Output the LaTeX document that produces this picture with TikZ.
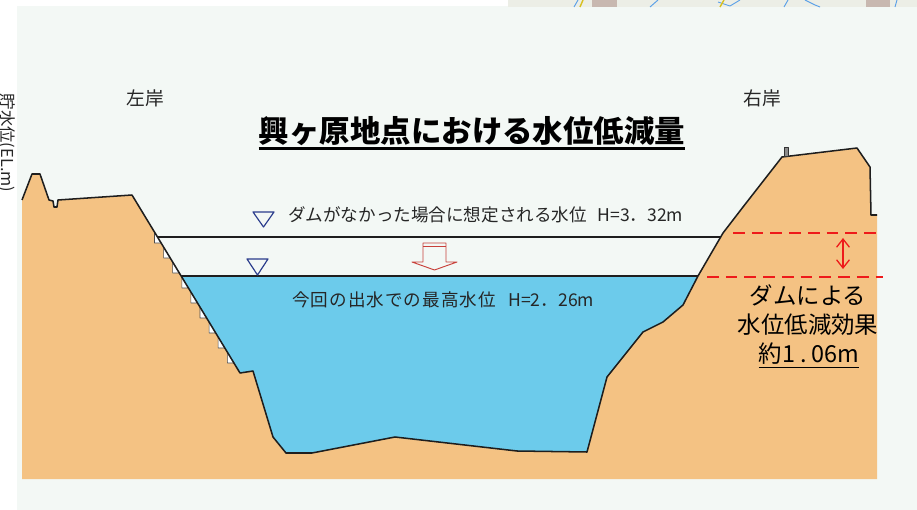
\documentclass[tikz,border=0pt]{standalone}
\usepackage{fontspec}
\setmainfont{Noto Sans CJK JP}
\usetikzlibrary{arrows.meta}
\definecolor{panel}{HTML}{F3F8F5}
\definecolor{sand}{HTML}{F4C283}
\definecolor{river}{HTML}{6CCBEB}
\definecolor{shoreline}{HTML}{1E1E1E}
\definecolor{marker}{HTML}{2A3C8C}
\definecolor{cutred}{HTML}{EE1A1A}
\definecolor{droprd}{HTML}{C8403A}
\definecolor{mapbg}{HTML}{ECEEE6}
\definecolor{mapblue}{HTML}{5AA0E8}
\definecolor{mapgold}{HTML}{D8C020}
\definecolor{mappink}{HTML}{C8B8B0}

\begin{document}
\begin{tikzpicture}[x=0.03cm, y=-0.03cm, line join=round,
  bank/.style={font=\fontsize{16}{18}\selectfont, text=black!85},
  level/.style={font=\fontsize{15}{17}\selectfont, text=black!85, anchor=west, inner sep=0pt},
  effect/.style={font=\fontsize{20}{22}\selectfont, text=black, inner sep=0pt},
  gauge/.style={draw=marker, fill=panel, line width=1pt},
  revet/.style={fill=white, draw=black!70, line width=0.5pt}]

\useasboundingbox (0,0) rectangle (917,510);

% Background
\fill[white] (0,0) rectangle (917,510);
\fill[panel] (17,6) rectangle (917,510);

% Map strip along the top edge
\fill[mapbg] (508,0) rectangle (917,7);
\fill[mappink] (592,0) rectangle (617,7);
\fill[mappink] (866,0) rectangle (890,7);
\draw[mapblue, line width=0.8pt] (574,7) -- (578,0);
\draw[mapgold, line width=1.2pt] (580,7) -- (583,0);
\draw[mapblue, line width=0.8pt] (650,7) -- (658,0);
\draw[mapblue, line width=0.8pt] (718,2) -- (730,6) -- (740,0);
\draw[mapgold, line width=1.2pt] (720,7) -- (724,0);
\draw[mapblue, line width=0.8pt] (784,7) -- (788,0);
\draw[mapblue, line width=0.8pt] (805,0) -- (815,5) -- (820,7);
\draw[mapblue, line width=0.8pt] (895,7) -- (897,0);

% Ground section
\fill[sand] (22,479) -- (22,200) -- (32,174) -- (40,174) -- (49,200) -- (53,201)
  -- (54,207) -- (57,207) -- (58,200) -- (132,195) -- (240,373) -- (253,371)
  -- (273,437) -- (286,453) -- (312,453) -- (395,437) -- (517,451) -- (587,452)
  -- (607,377) -- (643,332) -- (663,322) -- (683,305) -- (698,276) -- (723,233)
  -- (743,207) -- (782,157) -- (857,148) -- (870,167) -- (871,215) -- (877,215)
  -- (877,479) -- cycle;

% Water in the channel
\fill[river] (181,276) -- (240,373) -- (253,371) -- (273,437) -- (286,453)
  -- (312,453) -- (395,437) -- (517,451) -- (587,452) -- (607,377) -- (643,332)
  -- (663,322) -- (683,305) -- (698,276) -- cycle;

% Revetment steps on the left slope
\filldraw[revet] (154.5,232) -- (154.5,243) -- (161.1,243) -- cycle;
\filldraw[revet] (163.6,247) -- (163.6,258) -- (170.2,258) -- cycle;
\filldraw[revet] (172.7,262) -- (172.7,273) -- (179.3,273) -- cycle;
\filldraw[revet] (181.8,277) -- (181.8,288) -- (188.4,288) -- cycle;
\filldraw[revet] (190.9,292) -- (190.9,303) -- (197.5,303) -- cycle;
\filldraw[revet] (200.0,307) -- (200.0,318) -- (206.6,318) -- cycle;
\filldraw[revet] (209.1,322) -- (209.1,333) -- (215.7,333) -- cycle;
\filldraw[revet] (218.2,337) -- (218.2,348) -- (224.8,348) -- cycle;
\filldraw[revet] (227.3,352) -- (227.3,363) -- (233.9,363) -- cycle;

% Ground outline
\draw[shoreline, line width=1.3pt] (22,200) -- (32,174) -- (40,174) -- (49,200)
  -- (53,201) -- (54,207) -- (57,207) -- (58,200) -- (132,195) -- (240,373)
  -- (253,371) -- (273,437) -- (286,453) -- (312,453) -- (395,437) -- (517,451)
  -- (587,452) -- (607,377) -- (643,332) -- (663,322) -- (683,305) -- (698,276)
  -- (723,233) -- (743,207) -- (782,157) -- (857,148) -- (870,167) -- (871,215)
  -- (877,215);

% Post on the right bank
\filldraw[fill=black!45, draw=black!80, line width=0.5pt] (784,147) rectangle (788,156);

% Water levels
\draw[shoreline, line width=1.3pt] (157.5,237) -- (720.7,237);
\draw[shoreline, line width=1.3pt] (181,276) -- (698,276);

% Level markers
\draw[gauge] (253,212) -- (274,212) -- (263.5,227) -- cycle;
\draw[gauge] (247,259) -- (268,259) -- (257.5,275) -- cycle;

% Drop between the two levels
\filldraw[fill=panel, draw=droprd, line width=0.8pt] (423,243) -- (446,243) -- (446,262)
  -- (457,262) -- (434.5,270) -- (412,262) -- (423,262) -- cycle;
\draw[droprd, line width=0.6pt] (423,246) -- (446,246);

% Level labels
\node[level] (nodam) at (288,215) {ダムがなかった場合に想定される水位\hspace{0.6em}H=3．32m};
\node[level] (peak) at (292,300)
  {{\addfontfeature{LetterSpace=6}今回の出水での最高水位}\hspace{0.7em}H=2．26m};

% Reduction on the right bank
\draw[cutred, line width=1.7pt, dash pattern=on 10pt off 6pt] (733,233) -- (877,233);
\draw[cutred, line width=1.7pt, dash pattern=on 10pt off 6pt] (707,277) -- (883,277);
\coordinate (gaptop) at (843,238);
\coordinate (gapbot) at (843,269);
\draw[cutred, line width=1.1pt, {Straight Barb[length=7pt, width=11pt]}-{Straight Barb[length=7pt, width=11pt]}]
  (gaptop) -- (gapbot);

\node[effect] (eff1) at (808,295) {ダムによる};
\node[effect] (eff2) at (808,325) {水位低減効果};
\node[effect] (eff3) at (809,354) {約1\hspace{0.2em}.\hspace{0.2em}06m};
\draw[black, line width=1.1pt] ([yshift=-2pt]eff3.south west) -- ([yshift=-2pt]eff3.south east);

% Bank names
\node[bank] (left) at (145,98) {左岸};
\node[bank] (right) at (762,98) {右岸};

% Vertical axis caption
\node[font=\fontsize{14}{16}\selectfont, text=black!85, rotate=-90] (axis) at (7,143) {貯水位(EL.m)};

% Title
\node[font=\fontsize{26}{30}\selectfont\bfseries, text=black, inner sep=0pt] (title) at (472,131)
  {興ヶ原地点における水位低減量};
\draw[black, line width=2.4pt] ([yshift=-2pt]title.south west) -- ([yshift=-2pt]title.south east);

\end{tikzpicture}
\end{document}
